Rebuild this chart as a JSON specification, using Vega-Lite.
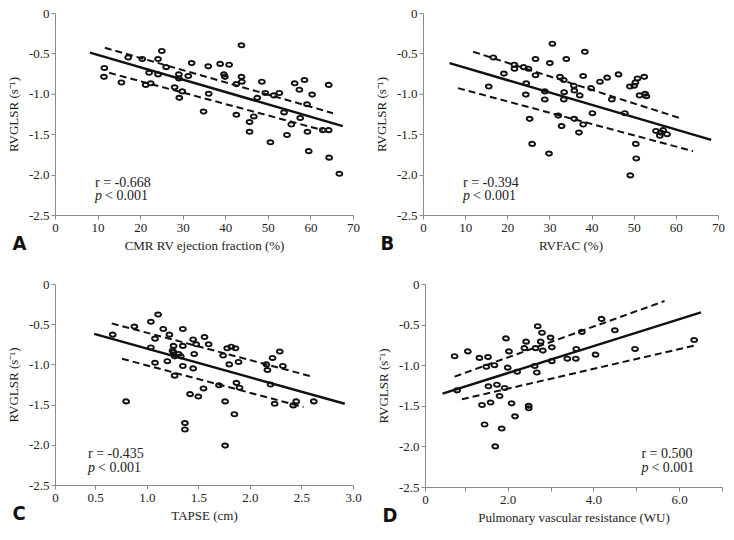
{
  "$schema": "https://vega.github.io/schema/vega-lite/v6.json",
  "background": "white",
  "padding": {"left": 7, "top": 7, "right": 0, "bottom": 0},
  "config": {
    "font": "Liberation Serif",
    "view": {"stroke": null},
    "axis": {"grid": false, "domainColor": "#8a8a8a", "tickColor": "#8a8a8a", "labelColor": "#222", "titleColor": "#222",
      "labelFont": "Liberation Serif", "titleFont": "Liberation Serif", "labelFontSize": 13, "titleFontSize": 13,
      "titleFontWeight": "normal", "tickSize": 4, "labelPadding": 2, "labelFlush": false, "labelOverlap": false},
    "axisX": {"titlePadding": 5},
    "axisY": {"titlePadding": 8},
    "title": {"font": "Liberation Sans Narrow, DejaVu Sans Condensed, Liberation Sans, sans-serif", "fontSize": 20, "fontWeight": "bold", "color": "#111"},
    "text": {"font": "Liberation Serif", "fontSize": 14, "color": "#222", "align": "left", "baseline": "middle"}
  },
  "datasets": {
    "A_pts": [{"x":11.5,"y":-0.79},{"x":11.6,"y":-0.68},{"x":15.6,"y":-0.86},{"x":17.2,"y":-0.55},{"x":20.5,"y":-0.57},{"x":21.3,"y":-0.89},{"x":22.1,"y":-0.74},{"x":22.5,"y":-0.87},{"x":24.2,"y":-0.57},{"x":24.2,"y":-0.76},{"x":25.1,"y":-0.47},{"x":26.1,"y":-0.67},{"x":28.1,"y":-0.92},{"x":29.1,"y":-0.76},{"x":29.1,"y":-0.81},{"x":29.2,"y":-1.05},{"x":29.9,"y":-0.97},{"x":31.3,"y":-0.78},{"x":32.1,"y":-0.62},{"x":34.9,"y":-1.22},{"x":36.0,"y":-0.66},{"x":36.1,"y":-1.0},{"x":38.8,"y":-0.63},{"x":39.7,"y":-0.76},{"x":39.9,"y":-0.79},{"x":40.9,"y":-0.64},{"x":42.6,"y":-0.88},{"x":42.6,"y":-1.26},{"x":43.8,"y":-0.40},{"x":43.8,"y":-0.79},{"x":43.9,"y":-0.85},{"x":45.7,"y":-1.35},{"x":45.7,"y":-1.47},{"x":46.7,"y":-1.28},{"x":47.5,"y":-1.05},{"x":48.6,"y":-0.85},{"x":49.4,"y":-0.99},{"x":50.6,"y":-1.60},{"x":51.4,"y":-1.02},{"x":52.7,"y":-0.99},{"x":53.8,"y":-1.23},{"x":54.5,"y":-1.51},{"x":55.5,"y":-1.38},{"x":56.3,"y":-0.87},{"x":57.4,"y":-0.95},{"x":57.6,"y":-1.30},{"x":58.6,"y":-0.83},{"x":59.2,"y":-1.13},{"x":59.3,"y":-1.47},{"x":59.6,"y":-1.71},{"x":60.4,"y":-1.01},{"x":62.9,"y":-1.45},{"x":64.3,"y":-1.45},{"x":64.3,"y":-0.89},{"x":64.4,"y":-1.79},{"x":66.8,"y":-1.99}],
    "A_lines": [{"line":"fit","x":8.2,"y":-0.49},{"line":"fit","x":67.6,"y":-1.40},{"line":"upper","x":11.7,"y":-0.43},{"line":"upper","x":65.3,"y":-1.24},{"line":"lower","x":12.7,"y":-0.74},{"line":"lower","x":62.9,"y":-1.45}],
    "A_notes": [{"kind":"r","x":9.4,"y":-2.10,"label":"r = -0.668"},{"kind":"p","x":9.4,"y":-2.27,"label":"p"},{"kind":"pv","x":9.4,"y":-2.27,"label":"< 0.001"}],
    "B_pts": [{"x":15.6,"y":-0.91},{"x":16.7,"y":-0.55},{"x":19.2,"y":-0.75},{"x":21.7,"y":-0.64},{"x":21.7,"y":-0.69},{"x":23.9,"y":-0.67},{"x":25.0,"y":-0.69},{"x":24.5,"y":-0.87},{"x":24.4,"y":-1.01},{"x":25.3,"y":-1.31},{"x":25.9,"y":-1.62},{"x":26.7,"y":-0.57},{"x":26.7,"y":-0.77},{"x":28.9,"y":-0.97},{"x":28.9,"y":-1.07},{"x":29.9,"y":-1.74},{"x":30.1,"y":-0.62},{"x":30.7,"y":-0.38},{"x":32.1,"y":-1.27},{"x":32.5,"y":-0.79},{"x":32.9,"y":-1.40},{"x":33.4,"y":-0.83},{"x":33.4,"y":-1.07},{"x":33.5,"y":-0.98},{"x":34.0,"y":-0.57},{"x":35.8,"y":-0.90},{"x":35.9,"y":-0.96},{"x":35.9,"y":-1.31},{"x":37.0,"y":-1.48},{"x":37.2,"y":-1.02},{"x":38.0,"y":-1.38},{"x":38.0,"y":-0.78},{"x":38.4,"y":-0.48},{"x":39.9,"y":-0.93},{"x":40.2,"y":-1.24},{"x":42.0,"y":-0.85},{"x":43.7,"y":-0.80},{"x":44.8,"y":-1.07},{"x":46.4,"y":-0.76},{"x":47.9,"y":-1.24},{"x":49.1,"y":-0.91},{"x":49.2,"y":-2.01},{"x":50.1,"y":-0.90},{"x":50.4,"y":-0.86},{"x":50.5,"y":-1.62},{"x":50.6,"y":-1.80},{"x":50.9,"y":-0.81},{"x":51.4,"y":-1.02},{"x":52.5,"y":-0.79},{"x":52.7,"y":-1.00},{"x":53.0,"y":-1.03},{"x":55.3,"y":-1.46},{"x":56.2,"y":-1.52},{"x":56.4,"y":-1.48},{"x":57.0,"y":-1.45},{"x":57.9,"y":-1.50}],
    "B_lines": [{"line":"fit","x":6.3,"y":-0.62},{"line":"fit","x":68.4,"y":-1.57},{"line":"upper","x":11.9,"y":-0.48},{"line":"upper","x":60.9,"y":-1.30},{"line":"lower","x":8.3,"y":-0.93},{"line":"lower","x":64.1,"y":-1.71}],
    "B_notes": [{"kind":"r","x":9.5,"y":-2.10,"label":"r = -0.394"},{"kind":"p","x":9.5,"y":-2.27,"label":"p"},{"kind":"pv","x":9.5,"y":-2.27,"label":"< 0.001"}],
    "C_pts": [{"x":0.67,"y":-0.63},{"x":0.80,"y":-1.46},{"x":0.88,"y":-0.53},{"x":1.04,"y":-0.47},{"x":1.04,"y":-0.79},{"x":1.08,"y":-0.68},{"x":1.08,"y":-0.98},{"x":1.11,"y":-0.38},{"x":1.16,"y":-0.56},{"x":1.20,"y":-0.96},{"x":1.22,"y":-0.63},{"x":1.25,"y":-0.83},{"x":1.26,"y":-0.77},{"x":1.26,"y":-0.85},{"x":1.27,"y":-0.90},{"x":1.27,"y":-1.14},{"x":1.31,"y":-0.87},{"x":1.33,"y":-0.90},{"x":1.35,"y":-0.77},{"x":1.35,"y":-0.56},{"x":1.35,"y":-1.02},{"x":1.37,"y":-1.73},{"x":1.37,"y":-1.81},{"x":1.42,"y":-1.37},{"x":1.45,"y":-1.05},{"x":1.45,"y":-0.69},{"x":1.46,"y":-0.87},{"x":1.48,"y":-0.75},{"x":1.50,"y":-1.40},{"x":1.55,"y":-1.30},{"x":1.56,"y":-0.66},{"x":1.60,"y":-0.75},{"x":1.70,"y":-1.26},{"x":1.74,"y":-0.89},{"x":1.76,"y":-1.46},{"x":1.76,"y":-2.01},{"x":1.78,"y":-0.80},{"x":1.80,"y":-1.00},{"x":1.82,"y":-0.78},{"x":1.86,"y":-0.80},{"x":1.85,"y":-1.62},{"x":1.87,"y":-1.23},{"x":1.89,"y":-0.97},{"x":1.90,"y":-1.29},{"x":2.16,"y":-1.00},{"x":2.17,"y":-1.07},{"x":2.20,"y":-1.25},{"x":2.22,"y":-0.92},{"x":2.24,"y":-1.49},{"x":2.29,"y":-0.84},{"x":2.32,"y":-1.02},{"x":2.42,"y":-1.51},{"x":2.45,"y":-1.46},{"x":2.62,"y":-1.46}],
    "C_lines": [{"line":"fit","x":0.49,"y":-0.62},{"line":"fit","x":2.92,"y":-1.49},{"line":"upper","x":0.66,"y":-0.49},{"line":"upper","x":2.60,"y":-1.15},{"line":"lower","x":0.76,"y":-0.93},{"line":"lower","x":2.52,"y":-1.53}],
    "C_notes": [{"kind":"r","x":0.43,"y":-2.11,"label":"r = -0.435"},{"kind":"p","x":0.43,"y":-2.29,"label":"p"},{"kind":"pv","x":0.43,"y":-2.29,"label":"< 0.001"}],
    "D_pts": [{"x":0.76,"y":-0.89},{"x":0.82,"y":-1.31},{"x":1.07,"y":-0.83},{"x":1.34,"y":-0.91},{"x":1.40,"y":-1.49},{"x":1.46,"y":-1.73},{"x":1.50,"y":-1.02},{"x":1.54,"y":-0.90},{"x":1.55,"y":-1.26},{"x":1.60,"y":-1.46},{"x":1.69,"y":-1.00},{"x":1.71,"y":-2.00},{"x":1.75,"y":-1.24},{"x":1.81,"y":-1.38},{"x":1.86,"y":-1.78},{"x":1.93,"y":-1.28},{"x":1.96,"y":-0.67},{"x":2.00,"y":-1.03},{"x":2.03,"y":-0.83},{"x":2.09,"y":-1.47},{"x":2.17,"y":-1.63},{"x":2.22,"y":-1.08},{"x":2.39,"y":-0.79},{"x":2.43,"y":-0.71},{"x":2.49,"y":-1.50},{"x":2.49,"y":-1.53},{"x":2.63,"y":-1.01},{"x":2.65,"y":-0.79},{"x":2.68,"y":-1.09},{"x":2.70,"y":-0.52},{"x":2.77,"y":-0.71},{"x":2.80,"y":-0.60},{"x":2.82,"y":-0.82},{"x":3.00,"y":-0.66},{"x":3.03,"y":-0.78},{"x":3.03,"y":-0.95},{"x":3.39,"y":-0.92},{"x":3.59,"y":-0.92},{"x":3.60,"y":-0.80},{"x":3.73,"y":-0.59},{"x":4.05,"y":-0.87},{"x":4.19,"y":-0.43},{"x":4.50,"y":-0.57},{"x":4.97,"y":-0.80},{"x":6.35,"y":-0.69}],
    "D_lines": [{"line":"fit","x":0.48,"y":-1.35},{"line":"fit","x":6.51,"y":-0.35},{"line":"upper","x":0.76,"y":-1.14},{"line":"upper","x":5.66,"y":-0.21},{"line":"lower","x":0.93,"y":-1.42},{"line":"lower","x":6.34,"y":-0.76}],
    "D_notes": [{"kind":"r","x":5.12,"y":-2.09,"label":"r = 0.500"},{"kind":"p","x":5.12,"y":-2.26,"label":"p"},{"kind":"pv","x":5.12,"y":-2.26,"label":"< 0.001"}]
  },
  "spacing": 24,
  "vconcat": [
    {
      "spacing": 15,
      "hconcat": [
        {
          "width": 298, "height": 202,
          "title": {"text": "A", "orient": "bottom", "anchor": "start", "frame": "bounds", "offset": -18, "dx": 5},
          "encoding": {
            "x": {"field": "x", "type": "quantitative", "scale": {"domain": [0, 70], "nice": false, "zero": false}, "axis": {"title": "CMR RV ejection fraction (%)", "values": [0, 10, 20, 30, 40, 50, 60, 70]}},
            "y": {"field": "y", "type": "quantitative", "scale": {"domain": [-2.5, 0], "nice": false}, "axis": {"title": "RVGLSR (s⁻¹)", "values": [0, -0.5, -1, -1.5, -2, -2.5], "labelExpr": "datum.value == 0 ? '0' : replace(format(datum.value, '.1f'), '−', '-')"}}
          },
          "layer": [
            {"data": {"name": "A_lines"}, "transform": [{"filter": "datum.line == 'fit'"}], "mark": {"type": "line", "color": "#111", "strokeWidth": 2.5}},
            {"data": {"name": "A_lines"}, "transform": [{"filter": "datum.line != 'fit'"}], "mark": {"type": "line", "color": "#111", "strokeWidth": 2, "strokeDash": [7, 4]}, "encoding": {"detail": {"field": "line"}}},
            {"data": {"name": "A_pts"}, "mark": {"type": "point", "shape": "M-1,0A1,0.72,0,1,1,1,0A1,0.72,0,1,1,-1,0Z", "size": 34, "strokeWidth": 1.9, "color": "#111", "filled": false, "opacity": 1}},
            {"data": {"name": "A_notes"}, "transform": [{"filter": "datum.kind == 'r'"}], "mark": {"type": "text"}, "encoding": {"text": {"field": "label"}}},
            {"data": {"name": "A_notes"}, "transform": [{"filter": "datum.kind == 'p'"}], "mark": {"type": "text", "fontStyle": "italic"}, "encoding": {"text": {"field": "label"}}},
            {"data": {"name": "A_notes"}, "transform": [{"filter": "datum.kind == 'pv'"}], "mark": {"type": "text", "dx": 10}, "encoding": {"text": {"field": "label"}}}
          ]
        },
        {
          "width": 295, "height": 202,
          "title": {"text": "B", "orient": "bottom", "anchor": "start", "frame": "bounds", "offset": -18, "dx": 5},
          "encoding": {
            "x": {"field": "x", "type": "quantitative", "scale": {"domain": [0, 70], "nice": false, "zero": false}, "axis": {"title": "RVFAC (%)", "values": [0, 10, 20, 30, 40, 50, 60, 70]}},
            "y": {"field": "y", "type": "quantitative", "scale": {"domain": [-2.5, 0], "nice": false}, "axis": {"title": "RVGLSR (s⁻¹)", "values": [0, -0.5, -1, -1.5, -2, -2.5], "labelExpr": "datum.value == 0 ? '0' : replace(format(datum.value, '.1f'), '−', '-')"}}
          },
          "layer": [
            {"data": {"name": "B_lines"}, "transform": [{"filter": "datum.line == 'fit'"}], "mark": {"type": "line", "color": "#111", "strokeWidth": 2.5}},
            {"data": {"name": "B_lines"}, "transform": [{"filter": "datum.line != 'fit'"}], "mark": {"type": "line", "color": "#111", "strokeWidth": 2, "strokeDash": [7, 4]}, "encoding": {"detail": {"field": "line"}}},
            {"data": {"name": "B_pts"}, "mark": {"type": "point", "shape": "M-1,0A1,0.72,0,1,1,1,0A1,0.72,0,1,1,-1,0Z", "size": 34, "strokeWidth": 1.9, "color": "#111", "filled": false, "opacity": 1}},
            {"data": {"name": "B_notes"}, "transform": [{"filter": "datum.kind == 'r'"}], "mark": {"type": "text"}, "encoding": {"text": {"field": "label"}}},
            {"data": {"name": "B_notes"}, "transform": [{"filter": "datum.kind == 'p'"}], "mark": {"type": "text", "fontStyle": "italic"}, "encoding": {"text": {"field": "label"}}},
            {"data": {"name": "B_notes"}, "transform": [{"filter": "datum.kind == 'pv'"}], "mark": {"type": "text", "dx": 10}, "encoding": {"text": {"field": "label"}}}
          ]
        }
      ]
    },
    {
      "spacing": 15,
      "hconcat": [
        {
          "width": 298, "height": 201,
          "title": {"text": "C", "orient": "bottom", "anchor": "start", "frame": "bounds", "offset": -18, "dx": 5},
          "encoding": {
            "x": {"field": "x", "type": "quantitative", "scale": {"domain": [0.11, 3], "nice": false, "zero": false}, "axis": {"title": "TAPSE (cm)", "values": [0.11, 0.5, 1, 1.5, 2, 2.5, 3], "labelExpr": "datum.value < 0.2 ? '0' : format(datum.value, '.1f')"}},
            "y": {"field": "y", "type": "quantitative", "scale": {"domain": [-2.5, 0], "nice": false}, "axis": {"title": "RVGLSR (s⁻¹)", "values": [0, -0.5, -1, -1.5, -2, -2.5], "labelExpr": "datum.value == 0 ? '0' : replace(format(datum.value, '.1f'), '−', '-')"}}
          },
          "layer": [
            {"data": {"name": "C_lines"}, "transform": [{"filter": "datum.line == 'fit'"}], "mark": {"type": "line", "color": "#111", "strokeWidth": 2.5}},
            {"data": {"name": "C_lines"}, "transform": [{"filter": "datum.line != 'fit'"}], "mark": {"type": "line", "color": "#111", "strokeWidth": 2, "strokeDash": [7, 4]}, "encoding": {"detail": {"field": "line"}}},
            {"data": {"name": "C_pts"}, "mark": {"type": "point", "shape": "M-1,0A1,0.72,0,1,1,1,0A1,0.72,0,1,1,-1,0Z", "size": 34, "strokeWidth": 1.9, "color": "#111", "filled": false, "opacity": 1}},
            {"data": {"name": "C_notes"}, "transform": [{"filter": "datum.kind == 'r'"}], "mark": {"type": "text"}, "encoding": {"text": {"field": "label"}}},
            {"data": {"name": "C_notes"}, "transform": [{"filter": "datum.kind == 'p'"}], "mark": {"type": "text", "fontStyle": "italic"}, "encoding": {"text": {"field": "label"}}},
            {"data": {"name": "C_notes"}, "transform": [{"filter": "datum.kind == 'pv'"}], "mark": {"type": "text", "dx": 10}, "encoding": {"text": {"field": "label"}}}
          ]
        },
        {
          "width": 297, "height": 203,
          "title": {"text": "D", "orient": "bottom", "anchor": "start", "frame": "bounds", "offset": -18, "dx": 5},
          "encoding": {
            "x": {"field": "x", "type": "quantitative", "scale": {"domain": [0.07, 7], "nice": false, "zero": false}, "axis": {"title": "Pulmonary vascular resistance (WU)", "values": [0.07, 1, 2, 3, 4, 5, 6, 7], "labelExpr": "datum.value < 0.5 ? '0' : ((datum.value == 2 || datum.value == 4 || datum.value == 6) ? format(datum.value, '.1f') : '')"}},
            "y": {"field": "y", "type": "quantitative", "scale": {"domain": [-2.5, 0], "nice": false}, "axis": {"title": "RVGLSR (s⁻¹)", "values": [0, -0.5, -1, -1.5, -2, -2.5], "labelExpr": "datum.value == 0 ? '0' : replace(format(datum.value, '.1f'), '−', '-')"}}
          },
          "layer": [
            {"data": {"name": "D_lines"}, "transform": [{"filter": "datum.line == 'fit'"}], "mark": {"type": "line", "color": "#111", "strokeWidth": 2.5}},
            {"data": {"name": "D_lines"}, "transform": [{"filter": "datum.line != 'fit'"}], "mark": {"type": "line", "color": "#111", "strokeWidth": 2, "strokeDash": [7, 4]}, "encoding": {"detail": {"field": "line"}}},
            {"data": {"name": "D_pts"}, "mark": {"type": "point", "shape": "M-1,0A1,0.72,0,1,1,1,0A1,0.72,0,1,1,-1,0Z", "size": 34, "strokeWidth": 1.9, "color": "#111", "filled": false, "opacity": 1}},
            {"data": {"name": "D_notes"}, "transform": [{"filter": "datum.kind == 'r'"}], "mark": {"type": "text"}, "encoding": {"text": {"field": "label"}}},
            {"data": {"name": "D_notes"}, "transform": [{"filter": "datum.kind == 'p'"}], "mark": {"type": "text", "fontStyle": "italic"}, "encoding": {"text": {"field": "label"}}},
            {"data": {"name": "D_notes"}, "transform": [{"filter": "datum.kind == 'pv'"}], "mark": {"type": "text", "dx": 10}, "encoding": {"text": {"field": "label"}}}
          ]
        }
      ]
    }
  ]
}
